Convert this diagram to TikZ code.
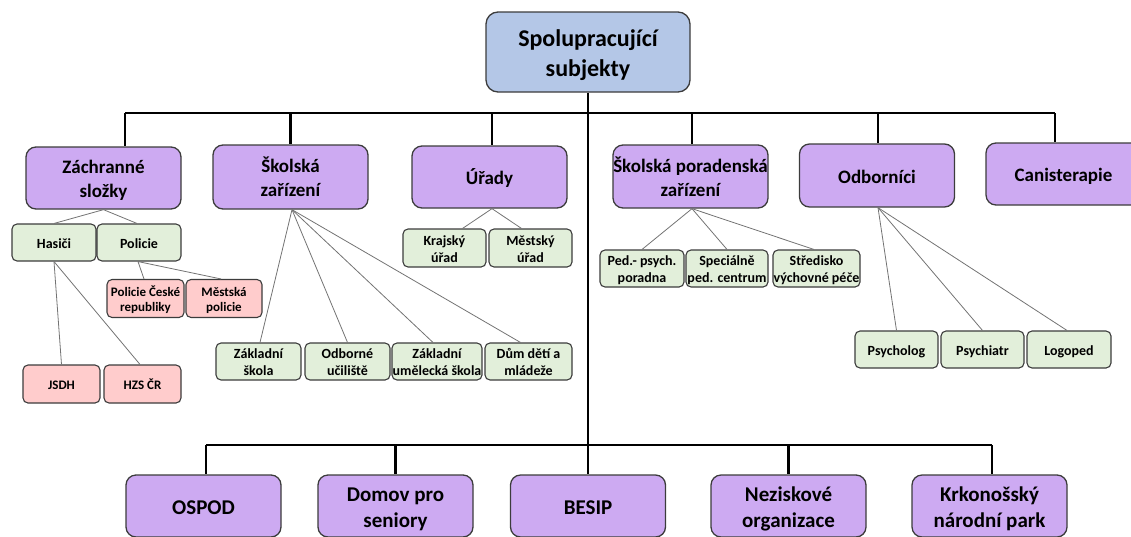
\documentclass[tikz,border=0pt]{standalone}
\usepackage{fontspec}
\setmainfont{Carlito}
\definecolor{rootblue}{RGB}{180,199,231}
\definecolor{catpurple}{RGB}{205,170,242}
\definecolor{leafgreen}{RGB}{226,239,218}
\definecolor{leafpink}{RGB}{255,204,204}
\definecolor{boxline}{RGB}{60,60,60}
\newcommand{\ts}{\rule{0pt}{1.05em}}
\newcommand{\bs}{\rule[-0.22em]{0pt}{0.22em}}
\tikzset{
  box/.style={draw=boxline, line width=1.3pt, align=center, inner sep=0pt},
  root/.style={box, fill=rootblue, rounded corners=12pt, minimum width=204pt, minimum height=80pt, font=\fontsize{24}{30}\selectfont\bfseries},
  cat/.style={box, fill=catpurple, rounded corners=10pt, minimum width=155pt, minimum height=62pt, font=\fontsize{19}{24}\selectfont\bfseries},
  bot/.style={box, fill=catpurple, rounded corners=10pt, minimum width=155pt, minimum height=62pt, font=\fontsize{21}{26}\selectfont\bfseries},
  leaf/.style={box, fill=leafgreen, rounded corners=5pt, line width=1.1pt, minimum height=37pt, font=\fontsize{14}{17}\selectfont\bfseries},
  pinkleaf/.style={box, fill=leafpink, rounded corners=5pt, line width=1.1pt, minimum height=38pt, font=\fontsize{13}{15.5}\selectfont\bfseries},
  bus/.style={line width=2.2pt, black},
  thin/.style={line width=0.8pt, black!55},
}
\begin{document}
\begin{tikzpicture}[x=1pt,y=-1pt]
\useasboundingbox (0,0) rectangle (1131,536);
\clip (0,0) rectangle (1131,536);
% root
\node[root] (root) at (588,52) {\ts Spolupracující\\subjekty\bs};
% level 2
\node[cat, minimum height=62pt] (zs) at (103.5,178) {\ts Záchranné\\složky\bs};
\node[cat, minimum height=64pt] (sz) at (290.5,177) {\ts Školská\\zařízení\bs};
\node[cat] (ur) at (489.5,177) {\ts Úřady\bs};
\node[cat, minimum height=63pt] (spz) at (690.5,176.5) {\ts Školská poradenská\\zařízení\bs};
\node[cat, minimum height=63pt] (od) at (877,175.5) {\ts Odborníci\bs};
\node[cat] (ca) at (1063.5,174) {\ts Canisterapie\bs};
% bottom row
\node[bot] (ospod) at (203.5,506) {\ts OSPOD\bs};
\node[bot] (domov) at (395.5,506) {\ts Domov pro\\seniory\bs};
\node[bot] (besip) at (588,506) {\ts BESIP\bs};
\node[bot] (nezisk) at (788.5,506) {\ts Neziskové\\organizace\bs};
\node[bot] (krnap) at (989.5,506) {\ts Krkonošský\\národní park\bs};
% leaves - Záchranné složky
\node[leaf, minimum width=84pt] (hasici) at (54,242.5) {\ts Hasiči\bs};
\node[leaf, minimum width=84pt] (policie) at (139,242.5) {\ts Policie\bs};
\node[pinkleaf, minimum width=77pt] (pcr) at (145.5,298.5) {\ts Policie České\\republiky\bs};
\node[pinkleaf, minimum width=76pt] (mp) at (224,298.5) {\ts Městská\\policie\bs};
\node[pinkleaf, minimum width=77pt] (jsdh) at (61.5,384) {\ts JSDH\bs};
\node[pinkleaf, minimum width=77pt] (hzs) at (142.5,384) {\ts HZS ČR\bs};
% Školská zařízení
\node[leaf, minimum width=85pt] (zsk) at (258.5,361.5) {\ts Základní\\škola\bs};
\node[leaf, minimum width=85pt] (ou) at (347.5,361.5) {\ts Odborné\\učiliště\bs};
\node[leaf, minimum width=90pt] (zus) at (437,361.5) {\ts Základní\\umělecká škola\bs};
\node[leaf, minimum width=87pt] (ddm) at (528.5,361.5) {\ts Dům dětí a\\mládeže\bs};
% Úřady
\node[leaf, minimum width=83pt, minimum height=38pt] (kraj) at (444.5,248) {\ts Krajský\\úřad\bs};
\node[leaf, minimum width=83pt, minimum height=38pt] (mest) at (530.5,248) {\ts Městský\\úřad\bs};
% Školská poradenská zařízení
\node[leaf, minimum width=84pt] (ppp) at (642,268.5) {\ts Ped.- psych.\\poradna\bs};
\node[leaf, minimum width=82pt] (spc) at (727,268.5) {\ts Speciálně\\ped. centrum\bs};
\node[leaf, minimum width=87pt] (svp) at (816.5,268.5) {\ts Středisko\\výchovné péče\bs};
% Odborníci
\node[leaf, minimum width=83pt] (psl) at (896.5,349.5) {\ts Psycholog\bs};
\node[leaf, minimum width=83pt] (psy) at (982.5,349.5) {\ts Psychiatr\bs};
\node[leaf, minimum width=84pt] (logo) at (1069,349.5) {\ts Logoped\bs};
% buses
\coordinate (tbL) at (125,113);
\coordinate (tbR) at (1055,113);
\coordinate (bbL) at (206,445);
\coordinate (bbR) at (992,445);
\draw[bus] (tbL) -- (tbR);
\draw[bus] (root.south) -- (besip.north);
\draw[bus] (bbL) -- (bbR);
\draw[bus] (tbL) -- (tbL |- zs.north);
\draw[bus] (sz.north |- tbL) -- (sz.north);
\draw[bus] ([xshift=2.5pt]ur.north |- tbL) -- ([xshift=2.5pt]ur.north);
\draw[bus] ([xshift=1.5pt]spz.north |- tbL) -- ([xshift=1.5pt]spz.north);
\draw[bus] ([xshift=1pt]od.north |- tbL) -- ([xshift=1pt]od.north);
\draw[bus] (tbR) -- (tbR |- ca.north);
\draw[bus] (bbL) -- (bbL |- ospod.north);
\draw[bus] (domov.north |- bbL) -- (domov.north);
\draw[bus] (nezisk.north |- bbL) -- (nezisk.north);
\draw[bus] (bbR) -- (bbR |- krnap.north);
% thin connectors
\draw[thin] (zs.south) -- (hasici.north);
\draw[thin] (zs.south) -- ([xshift=-2pt]policie.north);
\draw[thin] ([xshift=-1pt]policie.south) -- ([xshift=-1.5pt]pcr.north);
\draw[thin] ([xshift=-1pt]policie.south) -- ([xshift=-3pt]mp.north);
\draw[thin] (hasici.south) -- (jsdh.north);
\draw[thin] (hasici.south) -- ([xshift=-2.5pt]hzs.north);
\draw[thin] ([xshift=1.5pt]sz.south) -- ([xshift=1.5pt]zsk.north);
\draw[thin] ([xshift=1.5pt]sz.south) -- (ou.north);
\draw[thin] ([xshift=1.5pt]sz.south) -- ([xshift=-4pt]zus.north);
\draw[thin] ([xshift=1.5pt]sz.south) -- ([xshift=-8pt]ddm.north);
\draw[thin] ([xshift=2.5pt]ur.south) -- ([xshift=18pt]kraj.north);
\draw[thin] ([xshift=2.5pt]ur.south) -- ([xshift=-9pt]mest.north);
\draw[thin] ([xshift=1.5pt]spz.south) -- (ppp.north);
\draw[thin] ([xshift=1.5pt]spz.south) -- (spc.north);
\draw[thin] ([xshift=1.5pt]spz.south) -- ([xshift=-2.5pt]svp.north);
\draw[thin] ([xshift=1pt]od.south) -- (psl.north);
\draw[thin] ([xshift=1pt]od.south) -- (psy.north);
\draw[thin] ([xshift=1pt]od.south) -- ([xshift=-2pt]logo.north);
\end{tikzpicture}
\end{document}
